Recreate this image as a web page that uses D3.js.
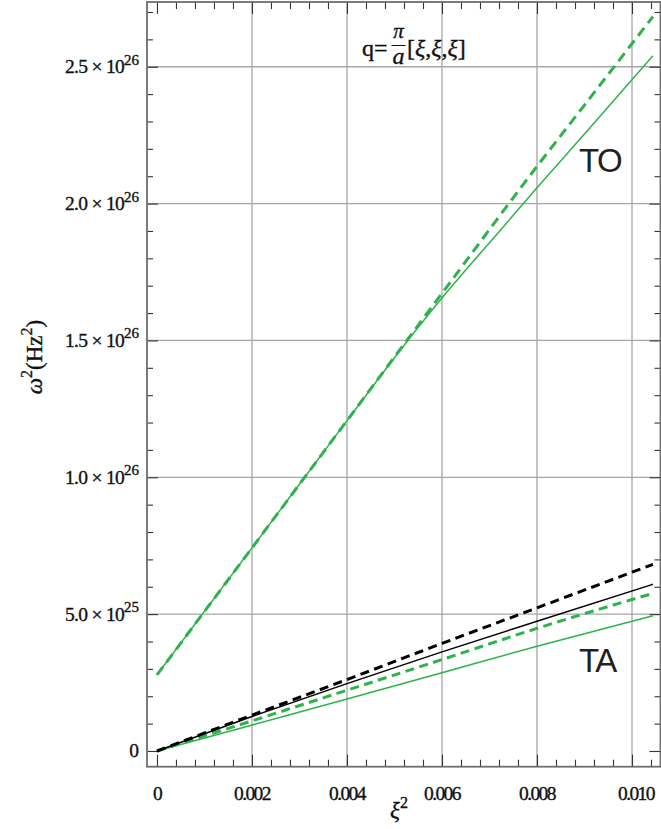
<!DOCTYPE html>
<html>
<head>
<meta charset="utf-8">
<script src="https://cdn.jsdelivr.net/npm/d3@7"></script>
<style>
  html, body { margin: 0; padding: 0; background: #fff; }
  svg { display: block; }
  .tick-lbl { font-family: "Liberation Serif", "DejaVu Serif", serif; fill: #111; stroke: #111; stroke-width: 0.35px; }
  .curve-lbl { font-family: "Liberation Sans", Arial, sans-serif; fill: #231f20; }
</style>
</head>
<body>
<svg id="chart" width="661" height="829"></svg>
<script>
// ω² (in units of 10^26 Hz²) versus ξ² along q = π/a [ξ, ξ, ξ]

// TO branch
const toDashedX = [0, 0.002, 0.004, 0.006, 0.008, 0.009, 0.01044];
const toDashedY = [0.278, 0.742, 1.207, 1.672, 2.136, 2.360, 2.683];
const toSolidX  = [0, 0.002, 0.004, 0.005, 0.0055, 0.006, 0.0065, 0.007, 0.0075, 0.008, 0.009, 0.01044];
const toSolidY  = [0.278, 0.742, 1.207, 1.437, 1.548, 1.655, 1.757, 1.857, 1.957, 2.058, 2.254, 2.540];

// TA branch
const taX             = [0, 0.002, 0.004, 0.006, 0.008, 0.01044];
const taBlackDashedY  = [0, 0.131, 0.261, 0.393, 0.523, 0.682];
const taBlackSolidY   = [0, 0.126, 0.246, 0.362, 0.474, 0.609];
const taGreenDashedY  = [0, 0.110, 0.222, 0.334, 0.448, 0.576];
const taGreenSolidY   = [0, 0.095, 0.190, 0.286, 0.383, 0.494];

// axis ticks
const xMajorTicks = [0, 0.002, 0.004, 0.006, 0.008, 0.010];
const xTickLabels = ["0", "0.002", "0.004", "0.006", "0.008", "0.010"];
const yMajorTicks = [0, 0.5, 1.0, 1.5, 2.0, 2.5];
const yTickMantissa = ["0", "5.0", "1.0", "1.5", "2.0", "2.5"];
const yTickExponent = ["", "25", "26", "26", "26", "26"];

const GREEN = "#2eb24b";

const svg = d3.select("#chart");
const L = 147, R = 660.5, T = 2, B = 766.7;

const x = d3.scaleLinear().domain([-0.00021, 0.0106]).range([L, R]);
const y = d3.scaleLinear().domain([-0.0574, 2.7365]).range([B, T]);

// minor tick positions
const xMinor = d3.range(0, 0.01045, 0.0004).filter(v => Math.abs(v / 0.002 - Math.round(v / 0.002)) > 1e-6);
const yMinor = d3.range(0, 2.72, 0.1).filter(v => Math.abs(v / 0.5 - Math.round(v / 0.5)) > 1e-6);

// grid
const grid = svg.append("g").attr("stroke", "#a6a6a6").attr("stroke-width", 1.3);
grid.selectAll("line.gx").data(xMajorTicks.filter(v => v > 0)).join("line")
  .attr("x1", d => x(d)).attr("x2", d => x(d)).attr("y1", T).attr("y2", B);
grid.selectAll("line.gy").data(yMajorTicks.filter(v => v > 0)).join("line")
  .attr("x1", L).attr("x2", R).attr("y1", d => y(d)).attr("y2", d => y(d));

// axes with inward ticks
function styleAxis(g) {
  g.select(".domain").remove();
  g.selectAll(".tick line").attr("stroke", "#333").attr("stroke-width", 1.1);
  g.selectAll(".tick text").remove();
}
const axes = svg.append("g");
axes.append("g").attr("transform", `translate(0,${B})`)
  .call(d3.axisBottom(x).tickValues(xMajorTicks).tickSize(-12).tickFormat("")).call(styleAxis);
axes.append("g").attr("transform", `translate(0,${B})`)
  .call(d3.axisBottom(x).tickValues(xMinor).tickSize(-7).tickFormat("")).call(styleAxis);
axes.append("g").attr("transform", `translate(0,${T})`)
  .call(d3.axisTop(x).tickValues(xMajorTicks).tickSize(-12).tickFormat("")).call(styleAxis);
axes.append("g").attr("transform", `translate(0,${T})`)
  .call(d3.axisTop(x).tickValues(xMinor).tickSize(-7).tickFormat("")).call(styleAxis);
axes.append("g").attr("transform", `translate(${L},0)`)
  .call(d3.axisLeft(y).tickValues(yMajorTicks).tickSize(-11).tickFormat("")).call(styleAxis);
axes.append("g").attr("transform", `translate(${L},0)`)
  .call(d3.axisLeft(y).tickValues(yMinor).tickSize(-6).tickFormat("")).call(styleAxis);
axes.append("g").attr("transform", `translate(${R},0)`)
  .call(d3.axisRight(y).tickValues(yMajorTicks).tickSize(-11).tickFormat("")).call(styleAxis);
axes.append("g").attr("transform", `translate(${R},0)`)
  .call(d3.axisRight(y).tickValues(yMinor).tickSize(-6).tickFormat("")).call(styleAxis);

// frame
svg.append("rect").attr("x", L).attr("y", T).attr("width", R - L).attr("height", B - T)
  .attr("fill", "none").attr("stroke", "#6e6e6e").attr("stroke-width", 1.8);

// curves
const line = d3.line().curve(d3.curveMonotoneX).x(d => x(d[0])).y(d => y(d[1]));
const zip = (xs, ys) => xs.map((v, i) => [v, ys[i]]);
const curves = [
  { pts: zip(taX, taGreenSolidY),  color: GREEN,  width: 1.5, dash: null },
  { pts: zip(taX, taGreenDashedY), color: GREEN,  width: 3,   dash: "9,5.5" },
  { pts: zip(taX, taBlackSolidY),  color: "#000", width: 1.5, dash: null },
  { pts: zip(taX, taBlackDashedY), color: "#000", width: 3,   dash: "9,5.5" },
  { pts: zip(toSolidX, toSolidY),  color: GREEN,  width: 1.5, dash: null },
  { pts: zip(toDashedX, toDashedY), color: GREEN, width: 3,   dash: "10,6" }
];
svg.append("g").selectAll("path").data(curves).join("path")
  .attr("d", d => line(d.pts))
  .attr("fill", "none")
  .attr("stroke", d => d.color)
  .attr("stroke-width", d => d.width)
  .attr("stroke-dasharray", d => d.dash);

// x tick labels
svg.append("g").selectAll("text").data(xMajorTicks).join("text")
  .attr("class", "tick-lbl")
  .attr("x", (d, i) => x(d) + (i === xMajorTicks.length - 1 ? 4 : 0))
  .attr("y", 800)
  .attr("text-anchor", "middle")
  .attr("font-size", 19.5)
  .attr("letter-spacing", "-1.6px")
  .text((d, i) => xTickLabels[i]);

// y tick labels with powers of ten
const yl = svg.append("g").selectAll("text").data(yMajorTicks).join("text")
  .attr("class", "tick-lbl")
  .attr("x", 139)
  .attr("y", d => y(d) + 6.5)
  .attr("text-anchor", "end")
  .attr("font-size", 19.5);
yl.each(function(d, i) {
  const t = d3.select(this);
  if (!yTickExponent[i]) { t.text(yTickMantissa[i]); return; }
  t.append("tspan").attr("letter-spacing", "-0.7px").text(yTickMantissa[i] + " \u00d7 10");
  t.append("tspan").attr("font-size", 15).attr("dy", -8.5).text(yTickExponent[i]);
});

// axis titles
const yt = svg.append("text").attr("class", "tick-lbl")
  .attr("transform", "translate(42,357) rotate(-90)")
  .attr("text-anchor", "middle").attr("font-size", 23);
yt.append("tspan").attr("font-style", "italic").text("\u03c9");
yt.append("tspan").attr("font-size", 16).attr("dy", -10).text("2");
yt.append("tspan").attr("dy", 10).text("(Hz");
yt.append("tspan").attr("font-size", 16).attr("dy", -10).text("2");
yt.append("tspan").attr("dy", 10).text(")");

const xt = svg.append("text").attr("class", "tick-lbl")
  .attr("x", 399).attr("y", 818).attr("text-anchor", "middle").attr("font-size", 23);
xt.append("tspan").attr("font-style", "italic").text("\u03be");
xt.append("tspan").attr("font-size", 16).attr("dy", -10).text("2");

// wave-vector annotation: q = (π / a)[ξ, ξ, ξ]
const ann = svg.append("g");
ann.append("text").attr("class", "tick-lbl").attr("x", 362).attr("y", 56).attr("font-size", 24).text("q=");
ann.append("text").attr("class", "tick-lbl").attr("x", 398.5).attr("y", 38).attr("text-anchor", "middle")
  .attr("font-size", 21).attr("font-style", "italic").text("\u03c0");
ann.append("line").attr("x1", 391.5).attr("x2", 405.5).attr("y1", 45.5).attr("y2", 45.5)
  .attr("stroke", "#111").attr("stroke-width", 1);
ann.append("text").attr("class", "tick-lbl").attr("x", 398.5).attr("y", 64).attr("text-anchor", "middle")
  .attr("font-size", 24).attr("font-style", "italic").text("a");
const br = ann.append("text").attr("class", "tick-lbl").attr("x", 407).attr("y", 56).attr("font-size", 24);
br.append("tspan").text("[");
br.append("tspan").attr("font-style", "italic").text("\u03be");
br.append("tspan").text(",");
br.append("tspan").attr("font-style", "italic").text("\u03be");
br.append("tspan").text(",");
br.append("tspan").attr("font-style", "italic").text("\u03be");
br.append("tspan").text("]");

// branch labels
svg.append("text").attr("class", "curve-lbl").attr("x", 579).attr("y", 172)
  .attr("font-size", 33).attr("letter-spacing", "-1.5px").text("TO");
svg.append("text").attr("class", "curve-lbl").attr("x", 579).attr("y", 672)
  .attr("font-size", 33).attr("letter-spacing", "-1.5px").text("TA");
</script>
</body>
</html>
